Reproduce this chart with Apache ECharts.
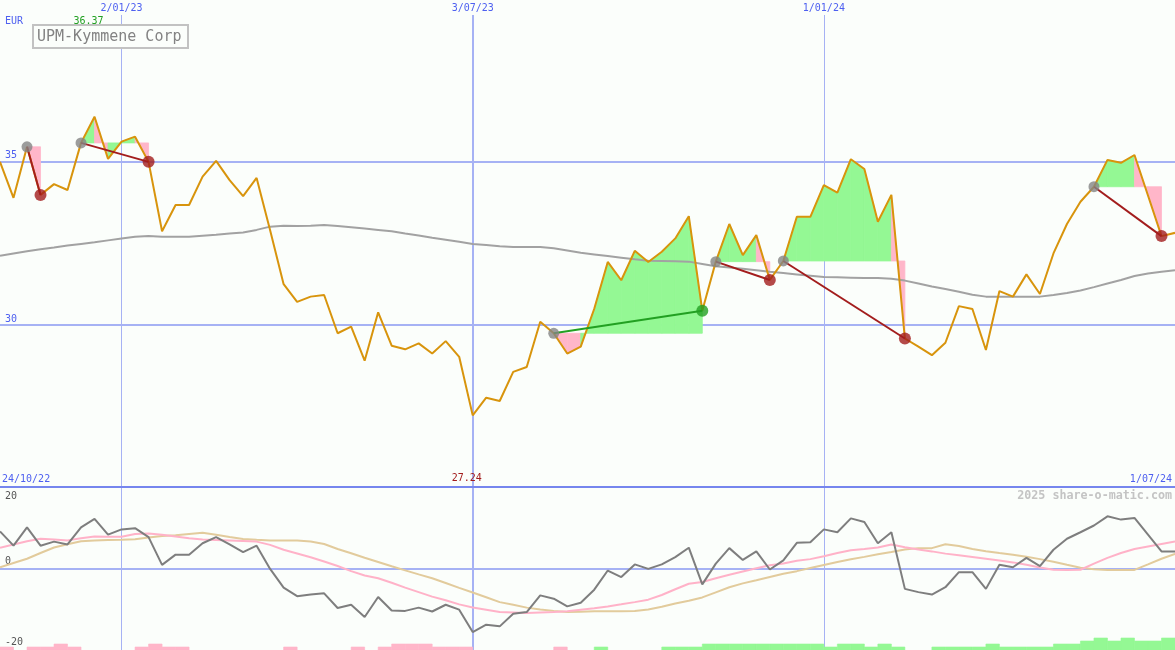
<!DOCTYPE html>
<html><head><meta charset="utf-8">
<script src="https://cdn.jsdelivr.net/npm/echarts@6/dist/echarts.min.js"></script>
<style>html,body{margin:0;padding:0;background:#fbfefb;overflow:hidden}#c{width:1175px;height:650px}</style>
</head><body><div id="c"></div>
<script>
// ---------- data (weekly, index 0 = first week shown) ----------
const title = 'UPM-Kymmene Corp';
const currency = 'EUR';
const rangeStart = '24/10/22';
const rangeEnd = '1/07/24';
const watermark = '2025 share-o-matic.com';
const dateTickIdx = [9, 35, 61];
const dateTickLabels = ['2/01/23', '3/07/23', '1/01/24'];
const priceGridValues = [35, 30];
const oscTickValues = [20, 0, -20];

const price = [34.99,33.89,35.45,33.98,34.31,34.13,35.57,36.37,35.08,35.61,
  35.76,34.99,32.87,33.67,33.67,34.54,35.02,34.43,33.94,34.50,
  32.90,31.25,30.71,30.87,30.92,29.75,29.95,28.91,30.39,29.37,
  29.26,29.44,29.13,29.51,29.03,27.24,27.78,27.68,28.57,28.72,
  30.10,29.75,29.13,29.34,30.50,31.93,31.37,32.27,31.93,32.24,
  32.65,33.33,30.44,31.94,33.09,32.14,32.75,31.38,31.96,33.31,
  33.31,34.28,34.05,35.07,34.77,33.16,33.98,29.59,29.34,29.08,
  29.46,30.58,30.49,29.24,31.04,30.87,31.55,30.95,32.19,33.09,
  33.77,34.23,35.05,34.96,35.20,33.96,32.72,32.82];

const movingAvg = [32.12,32.19,32.26,32.32,32.37,32.43,32.48,32.53,32.59,32.65,
  32.70,32.72,32.70,32.70,32.70,32.73,32.76,32.80,32.83,32.91,
  33.01,33.04,33.03,33.04,33.06,33.03,32.99,32.95,32.91,32.87,
  32.80,32.74,32.67,32.61,32.55,32.48,32.45,32.41,32.39,32.39,
  32.39,32.35,32.28,32.21,32.16,32.11,32.06,32.01,31.97,31.96,
  31.95,31.94,31.87,31.80,31.76,31.72,31.68,31.63,31.59,31.55,
  31.51,31.47,31.46,31.45,31.44,31.44,31.42,31.36,31.27,31.18,
  31.10,31.02,30.93,30.87,30.87,30.87,30.87,30.87,30.92,30.98,
  31.06,31.16,31.27,31.38,31.50,31.58,31.63,31.68];

const momentum = [9.1,5.6,10.1,5.6,6.6,5.9,10.1,12.2,8.3,9.6,
  9.9,7.7,0.9,3.4,3.4,6.2,7.7,5.9,4.0,5.6,
  -0.1,-4.7,-6.8,-6.4,-6.1,-9.7,-8.9,-11.9,-7.0,-10.3,
  -10.4,-9.6,-10.55,-8.9,-10.1,-15.6,-13.8,-14.2,-11.1,-10.7,
  -6.6,-7.4,-9.3,-8.4,-5.2,-0.5,-2.1,1.0,-0.1,1.0,
  2.8,5.1,-3.9,1.2,5.0,2.1,4.2,-0.25,2.0,6.3,
  6.45,9.6,8.9,12.3,11.4,6.2,8.9,-5.0,-5.8,-6.4,
  -4.6,-0.9,-0.9,-5.0,0.9,0.3,2.6,0.6,4.6,7.3,
  8.9,10.55,12.8,12.0,12.4,8.3,4.2,4.2];

const momFast = [5.1,5.9,6.7,7.3,7.1,6.9,7.4,7.85,7.8,7.8,
  8.45,8.6,8.3,7.85,7.45,7.1,7.0,6.9,6.75,6.6,
  5.8,4.6,3.7,2.75,1.7,0.6,-0.65,-1.7,-2.4,-3.5,
  -4.7,-5.8,-6.9,-7.8,-8.8,-9.55,-10.1,-10.7,-10.8,-10.9,
  -10.8,-10.7,-10.5,-10.1,-9.75,-9.3,-8.8,-8.25,-7.65,-6.5,
  -5.1,-3.75,-3.3,-2.4,-1.55,-0.75,0.05,0.8,1.25,1.9,
  2.3,3.0,3.8,4.5,4.8,5.15,5.9,5.2,4.65,4.2,
  3.65,3.25,2.85,2.4,1.95,1.5,0.9,0.25,-0.3,-0.35,
  -0.3,1.2,2.6,3.8,4.8,5.4,6.0,6.6];

const momSlow = [0.3,1.35,2.4,3.8,5.15,5.95,6.7,6.85,7.0,7.05,
  7.15,7.6,7.95,8.15,8.45,8.75,8.3,7.75,7.25,7.05,
  6.9,6.9,6.9,6.6,6.0,4.8,3.75,2.65,1.6,0.55,
  -0.45,-1.45,-2.4,-3.55,-4.75,-5.9,-7.05,-8.25,-8.9,-9.6,
  -10.05,-10.4,-10.7,-10.6,-10.5,-10.5,-10.5,-10.45,-10.05,-9.4,
  -8.6,-7.9,-7.1,-5.85,-4.6,-3.65,-2.9,-2.1,-1.3,-0.65,
  0.1,0.85,1.6,2.25,2.85,3.5,4.05,4.65,5.0,5.0,
  5.95,5.5,4.8,4.25,3.8,3.4,2.9,2.3,1.65,0.9,
  0.2,-0.2,-0.35,-0.35,-0.35,1.0,2.4,3.6];

// signal strength per week interval (negative = pink, positive = green)
const signalBars = [-1,0,-1,-1,-2,-1,0,0,0,0,
  -1,-2,-1,-1,0,0,0,0,0,0,
  0,-1,0,0,0,0,-1,0,-1,-2,
  -2,-2,-1,-1,-1,0,0,0,0,0,
  0,-1,0,0,1,0,0,0,0,1,
  1,1,2,2,2,2,2,2,2,2,
  2,1,2,2,1,2,1,0,0,1,
  1,1,1,2,1,1,1,1,2,2,
  3,4,3,4,3,3,4];

const tradeEntry = [2, 6, 41, 53, 58, 81];
const tradeExit  = [3, 11, 52, 57, 67, 86];

// ---------- styles ----------
const BG = '#fbfefb';
const GRID_BLUE = '#a6b2f4';
const DARK_BLUE = '#7686ee';
const LABEL_BLUE = '#4e60f0';
const FILL_GREEN = '#94f894';
const FILL_PINK = '#ffb6c9';
const RED = '#a31d1d';
const GREEN = '#22a022';
const MONO = '"DejaVu Sans Mono", monospace';

const N = price.length;
const Y0MIN = 25.05, Y0MAX = 39.48;

// ---------- derived structures ----------
const fillData = [];
tradeEntry.forEach((a, k) => {
  const b = tradeExit[k], E = price[a];
  for (let i = a; i < b; i++) fillData.push([i, E, price[i], price[i + 1]]);
});
const barData = signalBars.map((v, i) => [i, v]).filter(d => d[1] !== 0);
const xy = arr => arr.map((v, i) => [i, v]);

let maxIdx = 0, minIdx = 0;
price.forEach((v, i) => { if (v > price[maxIdx]) maxIdx = i; if (v < price[minIdx]) minIdx = i; });

const tradeLines = tradeEntry.map((a, k) => {
  const b = tradeExit[k];
  const gain = price[b] >= price[a];
  return {
    type: 'line', xAxisIndex: 0, yAxisIndex: 0, z: 6, silent: true,
    symbol: 'none', animation: false,
    lineStyle: { color: gain ? GREEN : RED, width: 2 },
    data: [[a, price[a]], [b, price[b]]]
  };
});

const chart = echarts.init(document.getElementById('c'), null, { renderer: 'canvas' });

const mainGridLines = priceGridValues.map(v => ({
  yAxis: v,
  lineStyle: { color: GRID_BLUE, width: 2, type: 'solid' },
  label: { show: true, position: 'insideStartTop', formatter: String(v), color: LABEL_BLUE,
           fontSize: 10, fontFamily: MONO, distance: [5, 1] }
})).concat(dateTickIdx.map((x, k) => ({
  xAxis: x,
  lineStyle: { color: GRID_BLUE, width: k === 1 ? 2 : 1, type: 'solid' },
  label: { show: true, position: 'end', formatter: dateTickLabels[k], color: LABEL_BLUE,
           fontSize: 10, fontFamily: MONO, distance: 2 }
})));

const lowGridLines = dateTickIdx.map((x, k) => ({
  xAxis: x,
  lineStyle: { color: GRID_BLUE, width: k === 1 ? 2 : 1, type: 'solid' },
  label: { show: false }
})).concat([
  { yAxis: oscTickValues[1], lineStyle: { color: GRID_BLUE, width: 2, type: 'solid' },
    label: { show: true, position: 'insideStartTop', formatter: String(oscTickValues[1]), color: '#555',
             fontSize: 10, fontFamily: MONO, distance: [5, 2] } },
  { yAxis: oscTickValues[2], lineStyle: { color: 'rgba(0,0,0,0)', width: 0.01, type: 'solid' },
    label: { show: true, position: 'insideStartTop', formatter: String(oscTickValues[2]), color: '#555',
             fontSize: 10, fontFamily: MONO, distance: [5, 3] } },
  { yAxis: oscTickValues[0], lineStyle: { color: DARK_BLUE, width: 2, type: 'solid' },
    label: { show: true, position: 'insideStartBottom', formatter: String(oscTickValues[0]), color: '#555',
             fontSize: 10, fontFamily: MONO, distance: [5, 4] } }
]);

const option = {
  backgroundColor: BG,
  animation: false,
  grid: [
    { left: 0, right: 0, top: 15, height: 472 },
    { left: 0, right: 0, top: 487, height: 163 }
  ],
  xAxis: [
    { gridIndex: 0, type: 'value', min: 0, max: N - 1, show: false },
    { gridIndex: 1, type: 'value', min: 0, max: N - 1, show: false }
  ],
  yAxis: [
    { gridIndex: 0, type: 'value', min: Y0MIN, max: Y0MAX, show: false },
    { gridIndex: 1, type: 'value', min: -20, max: 20, show: false },
    { gridIndex: 1, type: 'value', min: 0, max: 163 / 3, show: false }
  ],
  series: [
    { // main gridlines holder
      type: 'line', xAxisIndex: 0, yAxisIndex: 0, z: 1, data: [], silent: true,
      markLine: { z: 1, symbol: ['none', 'none'], silent: true, animation: false, data: mainGridLines }
    },
    { // trade fills
      type: 'custom', xAxisIndex: 0, yAxisIndex: 0, z: 2, silent: true,
      data: fillData, encode: { x: 0, y: 1 },
      renderItem: function (params, api) {
        const i = api.value(0), E = api.value(1), p0 = api.value(2), p1 = api.value(3);
        const pts = [api.coord([i, E]), api.coord([i, p0]), api.coord([i + 1, p1]), api.coord([i + 1, E])];
        const c = p1 >= E ? FILL_GREEN : FILL_PINK;
        return { type: 'polygon', shape: { points: pts }, style: { fill: c, stroke: c, lineWidth: 0.8 } };
      }
    },
    { // moving average
      type: 'line', xAxisIndex: 0, yAxisIndex: 0, z: 3, symbol: 'none', silent: true,
      lineStyle: { color: '#a2a2a2', width: 2 }, data: xy(movingAvg)
    },
    { // price
      type: 'line', xAxisIndex: 0, yAxisIndex: 0, z: 4, symbol: 'none', silent: true,
      lineStyle: { color: '#d8940c', width: 2 }, data: xy(price),
      markPoint: {
        silent: true, animation: false,
        data: [
          { coord: [maxIdx, Y0MAX], symbol: 'circle', symbolSize: 0,
            label: { show: true, position: 'inside', offset: [-6, 6], formatter: price[maxIdx].toFixed(2),
                     color: GREEN, fontSize: 10, fontFamily: MONO } },
          { coord: [minIdx, Y0MIN], symbol: 'circle', symbolSize: 0,
            label: { show: true, position: 'inside', offset: [-6, -8.5], formatter: price[minIdx].toFixed(2),
                     color: RED, fontSize: 10, fontFamily: MONO } }
        ]
      }
    },
    ...tradeLines,
    { // entries
      type: 'scatter', xAxisIndex: 0, yAxisIndex: 0, z: 7, silent: true,
      symbol: 'circle', symbolSize: 11, itemStyle: { color: '#858585' },
      data: tradeEntry.map(a => [a, price[a]])
    },
    { // exits
      type: 'scatter', xAxisIndex: 0, yAxisIndex: 0, z: 7, silent: true,
      symbol: 'circle', symbolSize: 12,
      data: tradeExit.map((b, k) => ({ value: [b, price[b]],
        itemStyle: { color: price[b] >= price[tradeEntry[k]] ? GREEN : RED } }))
    },
    { // lower gridlines holder
      type: 'line', xAxisIndex: 1, yAxisIndex: 1, z: 1, data: [], silent: true,
      markLine: { z: 1, symbol: ['none', 'none'], silent: true, animation: false, data: lowGridLines }
    },
    { // signal bars
      type: 'custom', xAxisIndex: 1, yAxisIndex: 2, z: 2, silent: true,
      data: barData, encode: { x: 0, y: 1 },
      renderItem: function (params, api) {
        const i = api.value(0), v = api.value(1);
        const a = api.coord([i, 0]), b = api.coord([i + 1, Math.abs(v)]);
        const c = v < 0 ? FILL_PINK : FILL_GREEN;
        return { type: 'rect', shape: { x: a[0], y: b[1], width: b[0] - a[0], height: a[1] - b[1] },
                 style: { fill: c, stroke: c, lineWidth: 0.6 } };
      }
    },
    { type: 'line', xAxisIndex: 1, yAxisIndex: 1, z: 3, symbol: 'none', silent: true,
      lineStyle: { color: '#e2cb9c', width: 2 }, data: xy(momSlow) },
    { type: 'line', xAxisIndex: 1, yAxisIndex: 1, z: 4, symbol: 'none', silent: true,
      lineStyle: { color: '#ffb2c8', width: 2 }, data: xy(momFast) },
    { type: 'line', xAxisIndex: 1, yAxisIndex: 1, z: 5, symbol: 'none', silent: true,
      lineStyle: { color: '#7e7e7e', width: 2 }, data: xy(momentum) }
  ],
  graphic: [
    { type: 'text', x: 5, y: 21, z: 20, style: { text: currency, fill: LABEL_BLUE, font: '10px ' + MONO, align: 'left', verticalAlign: 'middle' } },
    { type: 'rect', z: 20, shape: { x: 33, y: 25, width: 155, height: 23 }, style: { fill: BG, stroke: '#c2c2c2', lineWidth: 2 } },
    { type: 'text', x: 37, y: 37, z: 21, style: { text: title, fill: '#838383', font: '15px ' + MONO, align: 'left', verticalAlign: 'middle' } },
    { type: 'text', x: 2, y: 479, z: 20, style: { text: rangeStart, fill: LABEL_BLUE, font: '10px ' + MONO, align: 'left', verticalAlign: 'middle' } },
    { type: 'text', x: 1172, y: 479, z: 20, style: { text: rangeEnd, fill: LABEL_BLUE, font: '10px ' + MONO, align: 'right', verticalAlign: 'middle' } },
    { type: 'text', x: 1172, y: 496, z: 20, style: { text: watermark, fill: '#c4c4c4', font: 'bold 11.7px ' + MONO, align: 'right', verticalAlign: 'middle' } }
  ]
};
chart.setOption(option);
</script>
</body></html>
